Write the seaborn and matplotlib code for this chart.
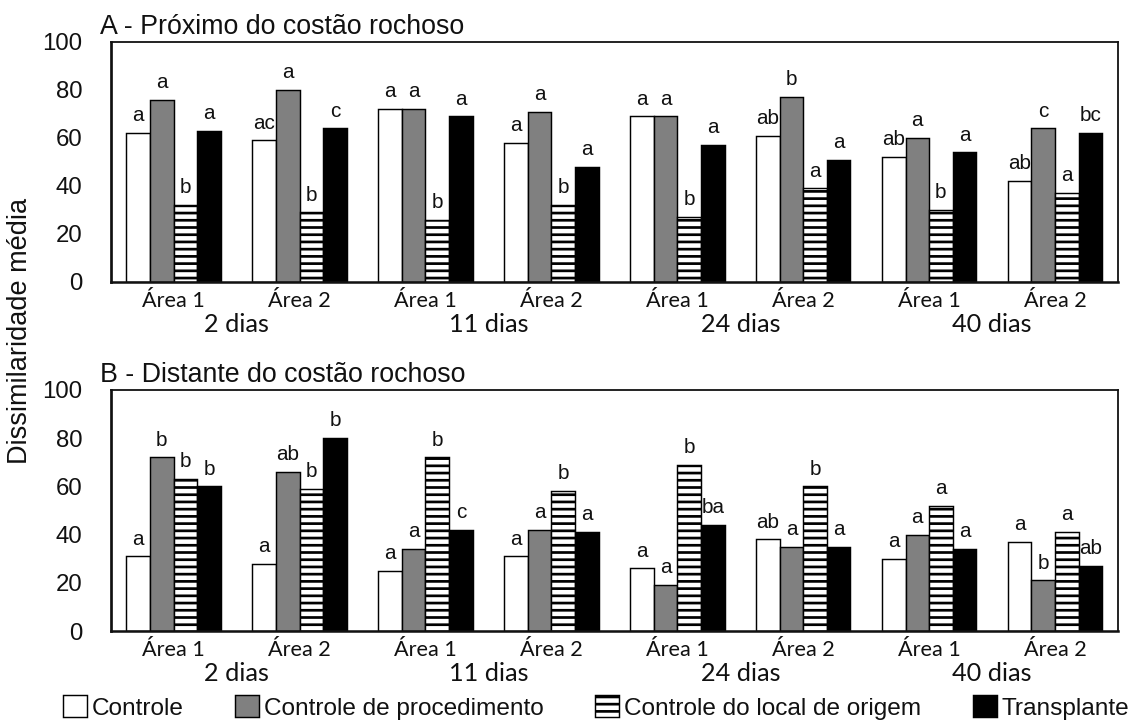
import matplotlib
matplotlib.use("Agg")
import matplotlib.pyplot as plt
import matplotlib.transforms as mtransforms
from matplotlib.patches import Patch
import numpy as np
import pandas as pd
import seaborn as sns

# ---- data -------------------------------------------------------------
dias = ["2 dias", "11 dias", "24 dias", "40 dias"]
areas = ["Área 1", "Área 2"]
tratamentos = ["Controle", "Controle de procedimento",
               "Controle do local de origem", "Transplante"]

# mean dissimilarity, one list per treatment (8 groups: dia x área)
prox_controle = [62, 59, 72, 58, 69, 61, 52, 42]
prox_procedimento = [76, 80, 72, 71, 69, 77, 60, 64]
prox_origem = [32, 29, 26, 32, 27, 39, 30, 37]
prox_transplante = [63, 64, 69, 48, 57, 51, 54, 62]

dist_controle = [31, 28, 25, 31, 26, 38, 30, 37]
dist_procedimento = [72, 66, 34, 42, 19, 35, 40, 21]
dist_origem = [63, 59, 72, 58, 69, 60, 52, 41]
dist_transplante = [60, 80, 42, 41, 44, 35, 34, 27]

# significance letters, same layout as the values
prox_letras = [
    ["a", "ac", "a", "a", "a", "ab", "ab", "ab"],
    ["a", "a", "a", "a", "a", "b", "a", "c"],
    ["b", "b", "b", "b", "b", "a", "b", "a"],
    ["a", "c", "a", "a", "a", "a", "a", "bc"],
]
dist_letras = [
    ["a", "a", "a", "a", "a", "ab", "a", "a"],
    ["b", "ab", "a", "a", "a", "a", "a", "b"],
    ["b", "b", "b", "b", "b", "b", "a", "a"],
    ["b", "b", "c", "a", "ba", "a", "a", "ab"],
]

titulos = ["A - Próximo do costão rochoso", "B - Distante do costão rochoso"]
ylabel = "Dissimilaridade média"
yticks = [0, 20, 40, 60, 80, 100]

# ---- style ------------------------------------------------------------
sns.set_style("white")
plt.rcParams["font.family"] = ["Liberation Sans", "DejaVu Sans"]
plt.rcParams["hatch.linewidth"] = 1.5
plt.rcParams["text.color"] = "#111111"

cores = ["white", "#808080", "white", "black"]
hachuras = ["", "", "---", ""]
DPI = 130

grupos = [f"{d}|{a}" for d in dias for a in areas]


def montar(valores):
    linhas = []
    for trat, serie in zip(tratamentos, valores):
        for g, v in zip(grupos, serie):
            linhas.append({"grupo": g, "tratamento": trat, "valor": v})
    return pd.DataFrame(linhas)


fig = plt.figure(figsize=(1140 / DPI, 721 / DPI), dpi=DPI)
axA = fig.add_axes([0.0971, 0.6089, 0.8836, 0.3329])
axB = fig.add_axes([0.0971, 0.1248, 0.8836, 0.3343])

paineis = [
    (axA, [prox_controle, prox_procedimento, prox_origem, prox_transplante], prox_letras),
    (axB, [dist_controle, dist_procedimento, dist_origem, dist_transplante], dist_letras),
]

for (ax, valores, letras), titulo in zip(paineis, titulos):
    df = montar(valores)
    sns.barplot(data=df, x="grupo", y="valor", hue="tratamento",
                order=grupos, hue_order=tratamentos, palette=cores,
                saturation=1, width=0.75, gap=0, errorbar=None,
                edgecolor="black", linewidth=0.8, legend=False, ax=ax)

    for cont, hatch, letr in zip(ax.containers, hachuras, letras):
        for barra, letra in zip(cont.patches, letr):
            if hatch:
                barra.set_hatch(hatch)
            ax.annotate(letra, (barra.get_x() + barra.get_width() / 2, barra.get_height()),
                        xytext=(0, 6.5), textcoords="offset points",
                        ha="center", va="baseline", fontsize=11.5)

    ax.set_ylim(0, 100)
    ax.set_xlim(-0.5, len(grupos) - 0.5)
    ax.set_yticks(yticks)
    ax.set_yticklabels([str(t) for t in yticks])
    ax.set_xticks(range(len(grupos)))
    ax.set_xticklabels([g.split("|")[1] for g in grupos], fontfamily="Lato", fontsize=12)
    ax.set_xlabel("")
    ax.set_ylabel("")
    ax.tick_params(axis="y", direction="out", length=5.5, width=0.8, pad=10,
                   labelsize=13.3, colors="#111111")
    ax.tick_params(axis="x", length=0, pad=5, colors="#111111")

    for lado in ["top", "right", "left", "bottom"]:
        ax.spines[lado].set_visible(True)
        ax.spines[lado].set_color("#111111")
    ax.spines["top"].set_linewidth(1.0)
    ax.spines["right"].set_linewidth(1.0)
    ax.spines["left"].set_linewidth(1.5)
    ax.spines["bottom"].set_linewidth(1.4)

    # day labels centred under each pair of areas
    trans = mtransforms.blended_transform_factory(ax.transData, ax.transAxes)
    for i, d in enumerate(dias):
        ax.text(2 * i + 0.5, -0.207, d, transform=trans, ha="center",
                va="baseline", fontfamily="Lato", fontsize=14)

    ax.text(-0.011, 1.035, titulo, transform=ax.transAxes, ha="left",
            va="baseline", fontsize=14.8)

fig.text(20 / 1140, 1 - 331 / 721, ylabel, rotation=90, ha="center",
         va="center", fontsize=15)

handles = [Patch(facecolor=c, edgecolor="black", hatch=h, linewidth=0.8)
           for c, h in zip(cores, hachuras)]
fig.legend(handles, tratamentos, loc="center", bbox_to_anchor=(0.5228, 0.0187),
           ncol=4, frameon=False, fontsize=13.5, handlelength=1.0,
           handleheight=1.0, handletextpad=0.2, columnspacing=2.1,
           borderpad=0, borderaxespad=0)

fig.savefig("out.png", dpi=DPI)
